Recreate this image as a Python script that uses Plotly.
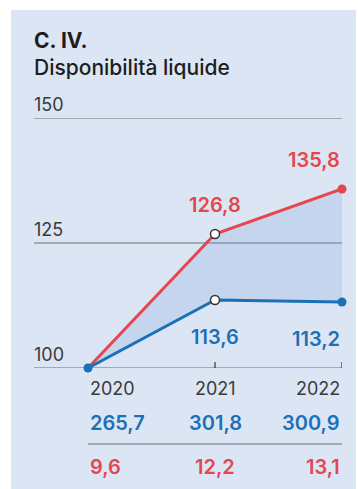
import plotly.graph_objects as go

years = [2020, 2021, 2022]
red_index = [100, 126.8, 135.8]
blue_index = [100, 113.6, 113.2]
red_labels = ["", "126,8", "135,8"]
blue_labels = ["", "113,6", "113,2"]
blue_row = ["265,7", "301,8", "300,9"]
red_row = ["9,6", "12,2", "13,1"]
y_ticks = [100, 125, 150]
title1 = "C. IV."
title2 = "Disponibilità liquide"

RED = "#e5464f"
BLUE = "#1c70b7"
FILL = "rgba(100,150,215,0.2)"
BG = "#dce5f3"
GRID = "#8c97a3"
DARK = "#333333"
FONT = "Inter"

W, H = 358, 489
L, R, T, B = 34, 16, 118, 121
pw, ph = W - L - R, H - T - B

def px2paper(px):
    return (px - L) / pw

def py2paper(py):
    return (H - B - py) / ph

fig = go.Figure()
# invisible base for fill
fig.add_trace(go.Scatter(x=years, y=blue_index, mode="lines", line=dict(width=0, color=BLUE),
                         hoverinfo="skip", showlegend=False, cliponaxis=False))
fig.add_trace(go.Scatter(x=years, y=red_index, mode="lines", line=dict(width=3, color=RED),
                         fill="tonexty", fillcolor=FILL, showlegend=False, cliponaxis=False))
fig.add_trace(go.Scatter(x=years, y=blue_index, mode="lines", line=dict(width=3, color=BLUE),
                         showlegend=False, cliponaxis=False))
# markers
fig.add_trace(go.Scatter(x=years[1:], y=red_index[1:], mode="markers",
                         marker=dict(size=9, color=["white", RED],
                                     line=dict(width=[1.5, 0], color=[DARK, RED])),
                         showlegend=False, cliponaxis=False))
fig.add_trace(go.Scatter(x=years, y=blue_index, mode="markers",
                         marker=dict(size=9, color=[BLUE, "white", BLUE],
                                     line=dict(width=[0, 1.5, 0], color=[BLUE, DARK, BLUE])),
                         showlegend=False, cliponaxis=False))

shapes = [
    dict(type="rect", xref="paper", yref="paper",
         x0=px2paper(11), x1=px2paper(356), y0=py2paper(H + 2), y1=py2paper(10),
         fillcolor=BG, line=dict(width=0), layer="below"),
    dict(type="line", xref="x", yref="paper", x0=years[0], x1=years[-1],
         y0=py2paper(444), y1=py2paper(444), line=dict(color=GRID, width=1.5)),
]
for t in y_ticks:
    shapes.append(dict(type="line", xref="paper", yref="y", x0=0, x1=1, y0=t, y1=t,
                       line=dict(color=GRID, width=1.5), layer="below"))
# small upward ticks on the baseline
for yr in years[1:]:
    shapes.append(dict(type="line", xref="x", yref="y", ysizemode="pixel", yanchor=y_ticks[0],
                       x0=yr, x1=yr, y0=0, y1=6, line=dict(color=DARK, width=1.2)))

annotations = []
# titles
annotations.append(dict(xref="paper", yref="paper", x=px2paper(32), y=py2paper(41),
                        xanchor="left", yanchor="middle", showarrow=False,
                        text="<b>" + title1 + "</b>",
                        font=dict(family=FONT, size=21, color="#1d1d1d")))
annotations.append(dict(xref="paper", yref="paper", x=px2paper(32), y=py2paper(67),
                        xanchor="left", yanchor="middle", showarrow=False,
                        text=title2, font=dict(family=FONT, size=21, weight=500, color="#1d1d1d")))
# y tick labels
for t in y_ticks:
    annotations.append(dict(xref="paper", yref="y", x=0, y=t, xanchor="left", yanchor="bottom",
                            yshift=1, xshift=-2, showarrow=False, text=str(t),
                            font=dict(family=FONT, size=18, color="#3a3a3a")))
anchors = ["left", "center", "right"]
NUMF = dict(family=FONT, size=20, weight=600)
for i, yr in enumerate(years):
    a = anchors[i]
    annotations.append(dict(xref="x", yref="paper", x=yr, y=py2paper(388), xanchor=a,
                            yanchor="middle", showarrow=False, text=str(yr),
                            font=dict(family=FONT, size=18, color="#3a3a3a")))
    annotations.append(dict(xref="x", yref="paper", x=yr, y=py2paper(423), xanchor=a,
                            yanchor="middle", showarrow=False, text=blue_row[i],
                            font=dict(NUMF, color=BLUE)))
    annotations.append(dict(xref="x", yref="paper", x=yr, y=py2paper(467), xanchor=a,
                            yanchor="middle", showarrow=False, text=red_row[i],
                            font=dict(NUMF, color=RED)))
    if red_labels[i]:
        annotations.append(dict(xref="x", yref="y", x=yr, y=red_index[i], xanchor=a,
                                yanchor="middle", yshift=29, showarrow=False,
                                text=red_labels[i], font=dict(NUMF, color=RED)))
    if blue_labels[i]:
        annotations.append(dict(xref="x", yref="y", x=yr, y=blue_index[i], xanchor=a,
                                yanchor="middle", yshift=-37, showarrow=False,
                                text=blue_labels[i], font=dict(NUMF, color=BLUE)))

fig.update_layout(
    width=W, height=H,
    margin=dict(l=L, r=R, t=T, b=B, pad=0),
    paper_bgcolor="white", plot_bgcolor="rgba(0,0,0,0)",
    shapes=shapes, annotations=annotations,
    xaxis=dict(range=[2022 - (pw / 127.0), 2022], showgrid=False, zeroline=False,
               showline=False, showticklabels=False, ticks="", fixedrange=True),
    yaxis=dict(range=[100, 150], showgrid=False,
               zeroline=False, showline=False, showticklabels=False,
               fixedrange=True),
    showlegend=False,
)

fig.write_html("out.html", post_script="document.body.style.margin='0';",
               config={"displayModeBar": False})
